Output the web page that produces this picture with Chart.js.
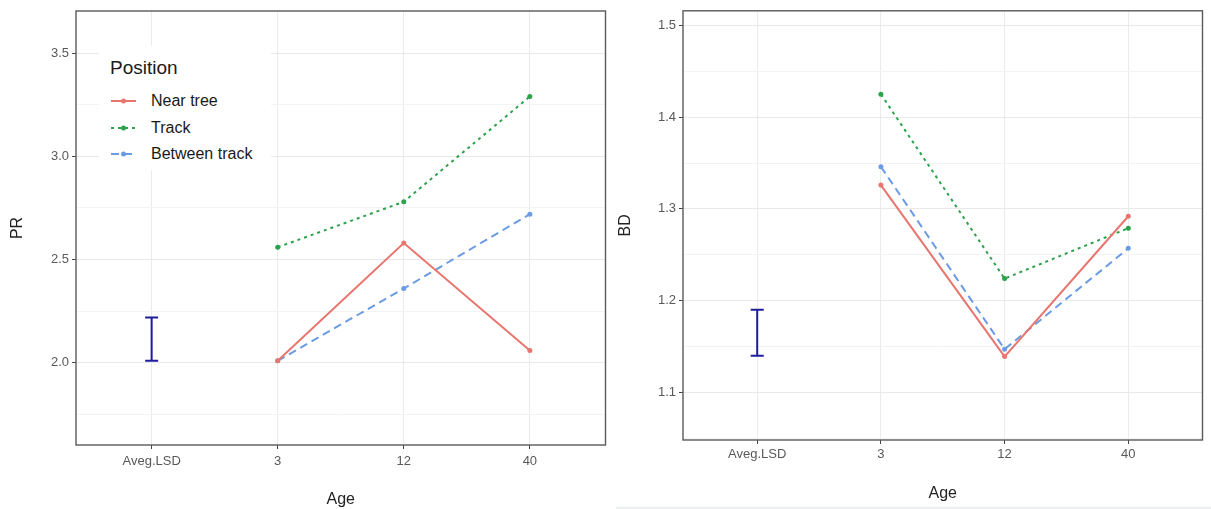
<!DOCTYPE html>
<html>
<head>
<meta charset="utf-8">
<script src="https://cdn.jsdelivr.net/npm/chart.js@4.4.0/dist/chart.umd.min.js"></script>
<style>
  body { margin: 0; background: #fff; width: 1211px; height: 509px; overflow: hidden; position: relative;
         font-family: Arial, "Liberation Sans", sans-serif; }
  canvas { position: absolute; top: 0; }
  #prChart { left: 0; }
  #bdChart { left: 614px; }
  #legend { position: absolute; left: 99px; top: 46px; width: 172px; height: 124px; background: #fff;
            padding: 10px 0 0 11px; box-sizing: border-box; color: #1a1a1a; }
  #legend .title { font-size: 19px; line-height: 24px; height: 24px; margin-bottom: 8px; }
  #legend .row { display: flex; align-items: center; height: 26.5px; font-size: 16px; }
  #legend svg { margin: 0 15px 0 1px; }
  #bottomStrip { position: absolute; left: 616px; bottom: 0; width: 595px; height: 2px; background: #eceef1; }
</style>
</head>
<body>
<canvas id="prChart" width="614" height="509"></canvas>
<canvas id="bdChart" width="597" height="509"></canvas>
<div id="legend"></div>
<div id="bottomStrip"></div>
<script>
// Categories and series
const ageLabels = ['Aveg.LSD', '3', '12', '40'];
const positions = ['Near tree', 'Track', 'Between track'];
const seriesColors = ['#e8766e', '#2ba24c', '#6b9be4'];
const seriesDash = [[], [3, 4], [8, 5]];
const lsdColor = '#1c1c9c';

// PR panel (values at ages 3, 12, 40)
const prNearTree = [2.01, 2.58, 2.06];
const prTrack = [2.56, 2.78, 3.29];
const prBetween = [2.01, 2.36, 2.72];
const prLsd = [2.01, 2.22];
const prTicks = [2.0, 2.5, 3.0, 3.5];
const prMinorTicks = [1.75, 2.25, 2.75, 3.25];

// BD panel (values at ages 3, 12, 40)
const bdNearTree = [1.326, 1.139, 1.292];
const bdTrack = [1.425, 1.224, 1.279];
const bdBetween = [1.346, 1.147, 1.257];
const bdLsd = [1.14, 1.19];
const bdTicks = [1.1, 1.2, 1.3, 1.4, 1.5];
const bdMinorTicks = [1.05, 1.15, 1.25, 1.35, 1.45];

// Draw the full panel frame like ggplot's theme_bw
const panelBorder = {
    id: 'panelBorder',
    afterDraw(chart) {
        const { ctx, chartArea: a } = chart;
        ctx.save();
        ctx.strokeStyle = '#5a5a5a';
        ctx.lineWidth = 1.4;
        ctx.strokeRect(a.left, a.top, a.right - a.left, a.bottom - a.top);
        ctx.restore();
    }
};

function makeDatasets(nearTree, track, between, lsd) {
    const series = [nearTree, track, between];
    const sets = series.map((vals, s) => ({
        label: positions[s],
        data: vals.map((v, i) => ({ x: i + 1, y: v })),
        borderColor: seriesColors[s],
        backgroundColor: seriesColors[s],
        borderDash: seriesDash[s],
        borderWidth: 2,
        pointRadius: 2.5,
        pointBorderWidth: 0
    }));
    // Average LSD error bar at the first category
    sets.push({
        label: 'LSD',
        data: lsd.map(v => ({ x: 0, y: v })),
        borderColor: lsdColor,
        borderWidth: 2,
        pointStyle: 'line',
        pointRadius: 6.5,
        pointBorderColor: lsdColor,
        pointBorderWidth: 2
    });
    return sets;
}

function makeChart(canvas, cfg) {
    const majors = cfg.ticks;
    const allTicks = cfg.minor.concat(majors).sort((a, b) => a - b);
    return new Chart(canvas, {
        type: 'line',
        data: { datasets: makeDatasets(...cfg.series, cfg.lsd) },
        options: {
            responsive: false,
            animation: false,
            layout: { padding: cfg.padding },
            plugins: { legend: { display: false }, tooltip: { enabled: false } },
            scales: {
                x: {
                    type: 'linear',
                    min: -0.6,
                    max: 3.6,
                    afterBuildTicks: scale => { scale.ticks = ageLabels.map((_, i) => ({ value: i })); },
                    afterFit: scale => { scale.height = cfg.xHeight; },
                    border: { display: false },
                    grid: { color: '#ebebeb', lineWidth: 1, tickLength: 4, tickColor: '#444' },
                    ticks: {
                        callback: v => ageLabels[v],
                        autoSkip: false, maxRotation: 0,
                        padding: cfg.xTickPad,
                        color: '#595959', font: { size: 13 }
                    },
                    title: {
                        display: true, text: 'Age', color: '#222',
                        font: { size: 16 }, padding: { top: 0, bottom: cfg.xTitlePad }
                    }
                },
                y: {
                    min: cfg.min,
                    max: cfg.max,
                    afterBuildTicks: scale => { scale.ticks = allTicks.map(v => ({ value: v })); },
                    afterFit: scale => { scale.width = cfg.yWidth; },
                    border: { display: false },
                    grid: {
                        color: c => majors.includes(c.tick.value) ? '#e9e9e9' : '#f3f3f3',
                        lineWidth: 1, tickLength: 4,
                        tickColor: c => majors.includes(c.tick.value) ? '#444' : 'rgba(0,0,0,0)'
                    },
                    ticks: {
                        callback: v => majors.includes(v) ? v.toFixed(1) : '',
                        autoSkip: false, padding: 3,
                        color: '#595959', font: { size: 13 }
                    },
                    title: {
                        display: true, text: cfg.yTitle, color: '#222',
                        font: { size: 16 }, padding: { top: cfg.yTitlePad, bottom: 0 }
                    }
                }
            }
        },
        plugins: [panelBorder]
    });
}

Chart.defaults.font.family = 'Arial, "Liberation Sans", sans-serif';

makeChart(document.getElementById('prChart'), {
    series: [prNearTree, prTrack, prBetween], lsd: prLsd,
    ticks: prTicks, minor: prMinorTicks, min: 1.602, max: 3.704,
    yTitle: 'PR', padding: { top: 11, right: 4, left: 0, bottom: 0 },
    yWidth: 76, xHeight: 64, xTickPad: 5, xTitlePad: 0, yTitlePad: 8
});

makeChart(document.getElementById('bdChart'), {
    series: [bdNearTree, bdTrack, bdBetween], lsd: bdLsd,
    ticks: bdTicks, minor: bdMinorTicks, min: 1.048, max: 1.516,
    yTitle: 'BD', padding: { top: 10, right: 4, left: 0, bottom: 0 },
    yWidth: 69, xHeight: 69, xTickPad: 3, xTitlePad: 6, yTitlePad: 2
});

// HTML legend for the Position groups
const legend = document.getElementById('legend');
legend.innerHTML = '<div class="title">Position</div>' + positions.map((name, s) => {
    const dash = seriesDash[s].length ? seriesDash[s].join(',') : 'none';
    return `<div class="row"><svg width="25" height="12">
        <line x1="0" y1="6" x2="25" y2="6" stroke="${seriesColors[s]}" stroke-width="2" stroke-dasharray="${dash}"/>
        <circle cx="12.5" cy="6" r="2.5" fill="${seriesColors[s]}"/></svg><span>${name}</span></div>`;
}).join('');
</script>
</body>
</html>
